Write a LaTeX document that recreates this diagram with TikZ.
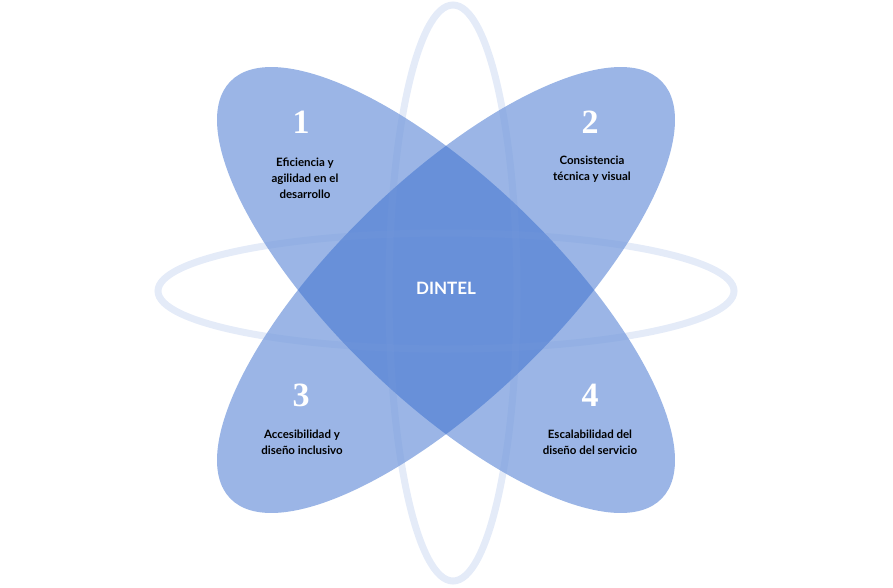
\documentclass[tikz,border=0pt]{standalone}
\usepackage{fontspec}
\setmainfont{Lato}
\newfontfamily\numfont{Liberation Serif}
\definecolor{petalblue}{RGB}{55,108,205}
\definecolor{ringblue}{RGB}{120,155,220}
\begin{document}
\begin{tikzpicture}[x=1pt,y=-1pt]
    \tikzstyle{petal} = [fill=petalblue, fill opacity=0.5, draw=none]
    \tikzstyle{ring} = [draw=ringblue, draw opacity=0.2, line width=7pt]
    \tikzstyle{num} = [text=white, font=\numfont\bfseries\fontsize{34}{34}\selectfont]
    \tikzstyle{label} = [align=center, font=\bfseries\fontsize{11.5}{16}\selectfont]
    \useasboundingbox (0,0) rectangle (893,587);

    % Petals
    \fill [petal, rotate around={-44:(446,290)}] (446,290) ellipse [x radius=300, y radius=110];
    \fill [petal, rotate around={44:(446,290)}] (446,290) ellipse [x radius=300, y radius=110];

    % Rings
    \draw [ring] (446,291) ellipse [x radius=288, y radius=58];
    \draw [ring] (453,293) ellipse [x radius=64, y radius=288];

    % Numbers
    \node [num] (n1) at (301,122) {1};
    \node [num] (n2) at (590,122) {2};
    \node [num] (n3) at (301,395) {3};
    \node [num] (n4) at (590,395) {4};

    % Labels
    \node [label] (l1) at (305,178) {Eficiencia y\\agilidad en el\\desarrollo};
    \node [label] (l2) at (592,169) {Consistencia\\técnica y visual};
    \node [label] (l3) at (302,442) {Accesibilidad y\\diseño inclusivo};
    \node [label] (l4) at (590,442) {Escalabilidad del\\diseño del servicio};
    \node [text=white, font=\bfseries\fontsize{17}{17}\selectfont] (core) at (446,288) {DINTEL};
\end{tikzpicture}
\end{document}
